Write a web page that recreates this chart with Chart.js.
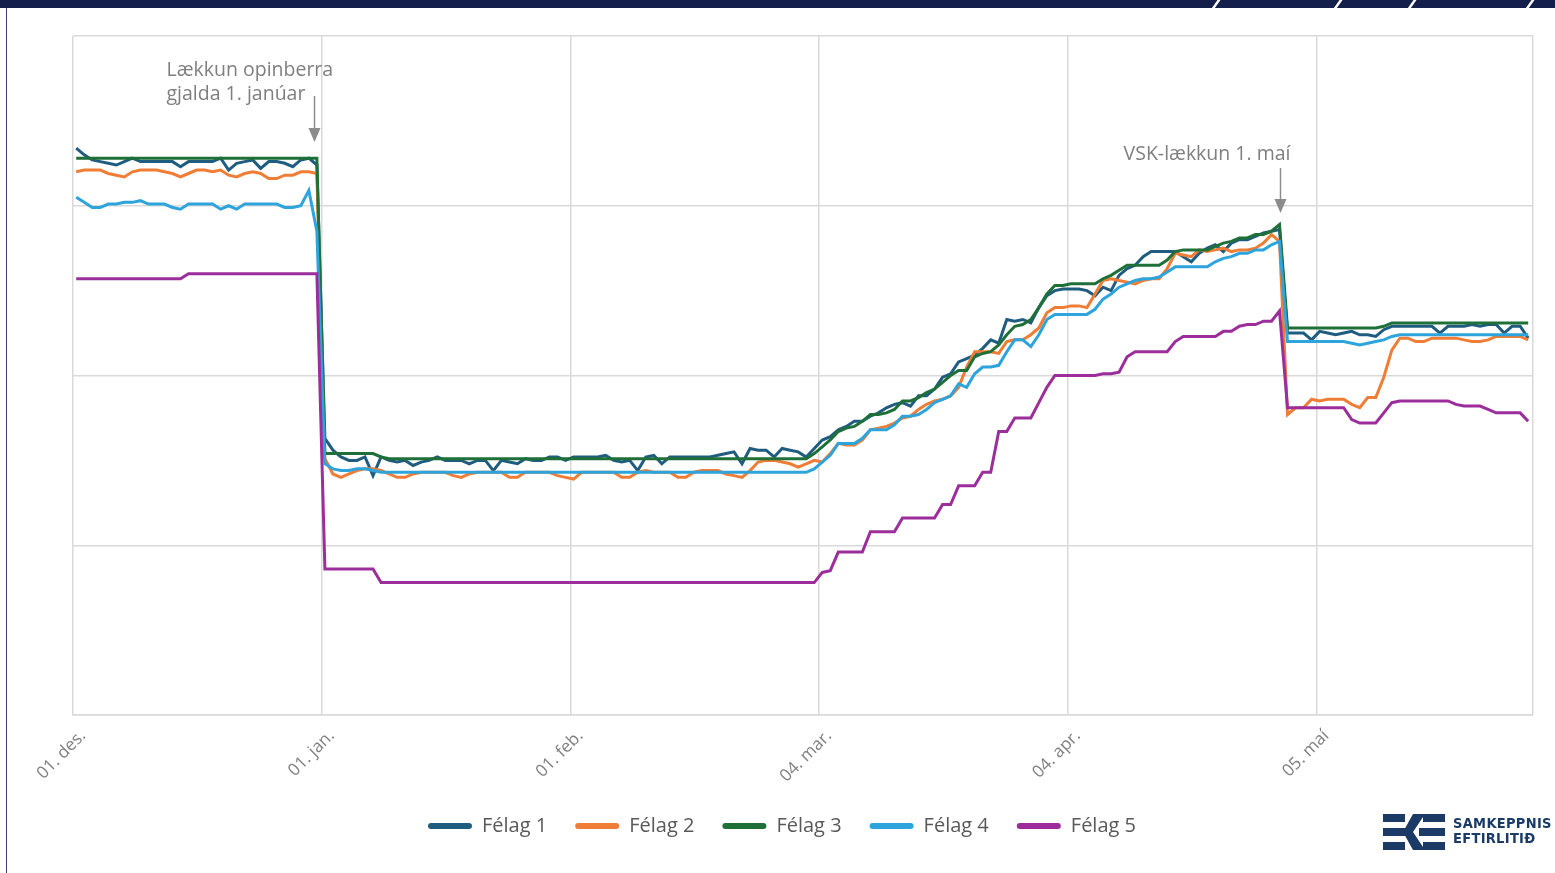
<!DOCTYPE html>
<html lang="is">
<head>
<meta charset="utf-8">
<title>Félag 1-5</title>
<script src="https://cdn.jsdelivr.net/npm/chart.js@4.4.1/dist/chart.umd.min.js"></script>
<style>
  html, body { margin: 0; padding: 0; background: #fff; }
  body { width: 1555px; height: 873px; position: relative; overflow: hidden; font-family: "Open Sans", sans-serif; }
  #topbar { position: absolute; left: 0; top: 0; width: 1555px; height: 8px; background: #141f4b; overflow: hidden; }
  .stripe { position: absolute; top: -2px; width: 3px; height: 14px; background: #fff; transform: skewX(-35deg); }
  #leftline { position: absolute; left: 6px; top: 8px; width: 1px; height: 865px; background: #3a4466; }
  #wrap { position: absolute; left: 0; top: 0; width: 1555px; height: 873px; }
  #logo { position: absolute; left: 1383px; top: 812px; width: 172px; height: 42px; }
  #logo svg { position: absolute; left: 0; top: 0; }
  #logo .txt { position: absolute; left: 70px; top: 4px; color: #1b3a66; font-family: "DejaVu Sans Condensed", "Liberation Sans Narrow", sans-serif; font-weight: bold; font-size: 14.5px; line-height: 15px; letter-spacing: 0.3px; }
</style>
</head>
<body>
<div id="topbar">
  <div class="stripe" style="left:1214px"></div>
  <div class="stripe" style="left:1336px"></div>
  <div class="stripe" style="left:1410px"></div>
  <div class="stripe" style="left:1528px"></div>
</div>
<div id="leftline"></div>
<div id="wrap"><canvas id="chart"></canvas></div>
<div id="logo">
  <svg width="62" height="40" viewBox="0 0 62 40">
    <rect x="0" y="2" width="22" height="8" fill="#1b3a66"/>
    <rect x="0" y="16" width="30" height="8" fill="#1b3a66"/>
    <rect x="0" y="30" width="22" height="8" fill="#1b3a66"/>
    <polygon points="30,2 42,2 30,20 42,38 30,38 20,20" fill="#1b3a66"/>
    <rect x="40" y="2" width="22" height="8" fill="#1b3a66"/>
    <rect x="36" y="16" width="26" height="8" fill="#1b3a66"/>
    <rect x="40" y="30" width="22" height="8" fill="#1b3a66"/>
  </svg>
  <div class="txt">SAMKEPPNIS<br>EFTIRLITIÐ</div>
</div>
<script>
// x axis: one point per day, day 0 = 01. des.; points sit at midday
const tickDays = [0, 31, 62, 93, 124, 155];
const tickLabels = ['01. des.', '01. jan.', '01. feb.', '04. mar.', '04. apr.', '05. maí'];
const lastDay = 182;
const dayOffset = 0.4;

const seriesNames = ['Félag 1', 'Félag 2', 'Félag 3', 'Félag 4', 'Félag 5'];
const seriesColors = ['#1f5d80', '#ef7d35', '#1f7038', '#2da4dc', '#9c2e9c'];

const felag1 = [
  // des.
  334, 330, 327, 326, 325, 324, 326, 328, 326, 326, 326, 326, 326, 323, 326, 326,
  326, 326, 328, 321, 325, 326, 327, 322, 326, 326, 325, 323, 327, 328, 324,
  // jan.
  163, 156, 152, 150, 150, 152, 141, 152, 150, 149, 150, 147, 149, 150, 152, 150,
  150, 150, 148, 150, 150, 144, 150, 149, 148, 151, 150, 150, 152, 152, 150,
  // feb.
  152, 152, 152, 152, 153, 150, 149, 150, 144, 152, 153, 148, 152, 152,
  152, 152, 152, 152, 153, 154, 155, 148, 157, 156, 156, 152, 157, 156,
  // mar.
  155, 152, 157, 162, 164, 168, 170, 173, 173, 176, 178, 181, 183, 184, 182, 188,
  188, 192, 199, 201, 208, 210, 212, 216, 221, 219, 233, 232, 233, 231, 240,
  // apr.
  247, 250, 251, 251, 251, 250, 247, 252, 250, 259, 263, 265, 270, 273, 273,
  273, 273, 270, 267, 272, 275, 277, 273, 278, 280, 280, 282, 284, 285, 286,
  // maí
  225, 225, 225, 221, 226, 225, 224, 225, 226, 224, 224, 223, 227, 229, 229, 229,
  229, 229, 229, 225, 229, 229, 229, 230, 229, 230, 230, 225, 229, 229, 222
];

const felag2 = [
  320, 321, 321, 321, 319, 318, 317, 320, 321, 321, 321, 320, 319, 317, 319, 321,
  321, 320, 321, 318, 317, 319, 320, 319, 316, 316, 318, 318, 320, 320, 319,
  151, 142, 140, 142, 144, 145, 145, 144, 142, 140, 140, 142, 143, 143, 143, 143,
  141, 140, 142, 143, 143, 143, 143, 140, 140, 143, 143, 143, 143, 141, 140,
  139, 143, 143, 143, 143, 143, 140, 140, 143, 144, 143, 143, 143, 140,
  140, 143, 144, 144, 144, 142, 141, 140, 144, 149, 150, 150, 149, 148,
  146, 148, 150, 149, 154, 160, 159, 159, 162, 168, 169, 170, 172, 175, 176, 180,
  183, 185, 186, 188, 193, 205, 214, 214, 214, 213, 220, 221, 221, 224, 228,
  237, 240, 240, 241, 241, 240, 248, 256, 257, 256, 255, 254, 256, 257, 257,
  263, 272, 271, 270, 274, 273, 274, 275, 273, 274, 274, 275, 278, 283, 279,
  177, 181, 181, 186, 185, 186, 186, 186, 183, 181, 187, 187, 199, 215, 222, 222,
  220, 220, 222, 222, 222, 222, 221, 220, 220, 221, 223, 223, 223, 223, 221
];

const felag3 = [
  328, 328, 328, 328, 328, 328, 328, 328, 328, 328, 328, 328, 328, 328, 328, 328,
  328, 328, 328, 328, 328, 328, 328, 328, 328, 328, 328, 328, 328, 328, 328,
  154, 154, 154, 154, 154, 154, 154, 152, 151, 151, 151, 151, 151, 151, 151, 151,
  151, 151, 151, 151, 151, 151, 151, 151, 151, 151, 151, 151, 151, 151, 151,
  151, 151, 151, 151, 151, 151, 151, 151, 151, 151, 151, 151, 151, 151,
  151, 151, 151, 151, 151, 151, 151, 151, 151, 151, 151, 151, 151, 151,
  151, 151, 154, 158, 162, 167, 169, 170, 173, 177, 177, 178, 180, 185, 185, 187,
  190, 192, 196, 200, 203, 203, 211, 213, 214, 218, 224, 229, 230, 233, 240,
  248, 253, 253, 254, 254, 254, 254, 257, 259, 262, 265, 265, 265, 265, 265,
  268, 273, 274, 274, 274, 274, 276, 278, 279, 281, 281, 283, 283, 285, 289,
  228, 228, 228, 228, 228, 228, 228, 228, 228, 228, 228, 228, 229, 231, 231, 231,
  231, 231, 231, 231, 231, 231, 231, 231, 231, 231, 231, 231, 231, 231, 231
];

const felag4 = [
  305, 302, 299, 299, 301, 301, 302, 302, 303, 301, 301, 301, 299, 298, 301, 301,
  301, 301, 298, 300, 298, 301, 301, 301, 301, 301, 299, 299, 300, 309, 285,
  148, 145, 144, 144, 145, 145, 144, 143, 143, 143, 143, 143, 143, 143, 143, 143,
  143, 143, 143, 143, 143, 143, 143, 143, 143, 143, 143, 143, 143, 143, 143,
  143, 143, 143, 143, 143, 143, 143, 143, 143, 143, 143, 143, 143, 143,
  143, 143, 143, 143, 143, 143, 143, 143, 143, 143, 143, 143, 143, 143,
  143, 143, 145, 149, 153, 160, 160, 160, 163, 168, 168, 168, 171, 176, 176, 177,
  180, 184, 186, 188, 195, 193, 201, 205, 205, 206, 214, 221, 221, 217, 224,
  233, 236, 236, 236, 236, 236, 239, 245, 248, 252, 254, 256, 257, 257, 258,
  261, 264, 264, 264, 264, 264, 267, 269, 270, 272, 272, 274, 274, 277, 279,
  220, 220, 220, 220, 220, 220, 220, 220, 219, 218, 219, 220, 221, 223, 224, 224,
  224, 224, 224, 224, 224, 224, 224, 224, 224, 224, 224, 224, 224, 224, 224
];

const felag5 = [
  257, 257, 257, 257, 257, 257, 257, 257, 257, 257, 257, 257, 257, 257, 260, 260,
  260, 260, 260, 260, 260, 260, 260, 260, 260, 260, 260, 260, 260, 260, 260,
  86, 86, 86, 86, 86, 86, 86, 78, 78, 78, 78, 78, 78, 78, 78, 78,
  78, 78, 78, 78, 78, 78, 78, 78, 78, 78, 78, 78, 78, 78, 78,
  78, 78, 78, 78, 78, 78, 78, 78, 78, 78, 78, 78, 78, 78,
  78, 78, 78, 78, 78, 78, 78, 78, 78, 78, 78, 78, 78, 78,
  78, 78, 78, 84, 85, 96, 96, 96, 96, 108, 108, 108, 108, 116, 116, 116,
  116, 116, 124, 124, 135, 135, 135, 143, 143, 167, 167, 175, 175, 175, 184,
  193, 200, 200, 200, 200, 200, 200, 201, 201, 202, 211, 214, 214, 214, 214,
  214, 220, 223, 223, 223, 223, 223, 226, 226, 229, 230, 230, 232, 232, 238,
  181, 181, 181, 181, 181, 181, 181, 181, 174, 172, 172, 172, 178, 184, 185, 185,
  185, 185, 185, 185, 185, 183, 182, 182, 182, 180, 178, 178, 178, 178, 173
];

const allSeries = [felag1, felag2, felag3, felag4, felag5];

// text notes with an arrow pointing down at a given day
const notes = [
  { day: 30.1, lines: ['Lækkun opinberra', 'gjalda 1. janúar'], textDx: -148, textTop: 34, arrowTop: 60, arrowTip: 106, align: 'left' },
  { day: 150.4, lines: ['VSK-lækkun 1. maí'], textDx: 10, textTop: 118, arrowTop: 132, arrowTip: 177, align: 'right' }
];

const notePlugin = {
  id: 'notes',
  afterLayout(chart) {
    // legend sits a little left of the centre in the original
    chart.legend.left -= 21;
    chart.legend.right -= 21;
  },
  afterDatasetsDraw(chart) {
    const { ctx, chartArea } = chart;
    const xs = chart.scales.x;
    ctx.save();
    ctx.font = '19.5px "Open Sans"';
    ctx.strokeStyle = '#8c8c8c';
    ctx.lineWidth = 1.5;
    notes.forEach(n => {
      const px = Math.round(xs.getPixelForValue(n.day)) + 0.5;
      ctx.fillStyle = '#7f7f7f';
      ctx.textAlign = n.align;
      n.lines.forEach((line, i) => {
        ctx.fillText(line, px + n.textDx, chartArea.top + n.textTop + i * 24);
      });
      const top = chartArea.top + n.arrowTop;
      const tip = chartArea.top + n.arrowTip;
      ctx.beginPath();
      ctx.moveTo(px, top);
      ctx.lineTo(px, tip - 12);
      ctx.stroke();
      ctx.beginPath();
      ctx.moveTo(px - 6, tip - 14);
      ctx.lineTo(px + 6, tip - 14);
      ctx.lineTo(px, tip);
      ctx.closePath();
      ctx.fillStyle = '#8c8c8c';
      ctx.fill();
    });
    ctx.restore();
  }
};

const datasets = allSeries.map((values, i) => ({
  label: seriesNames[i],
  data: values.map((v, day) => ({ x: day + dayOffset, y: v })),
  borderColor: seriesColors[i],
  backgroundColor: seriesColors[i],
  borderWidth: 3,
  pointRadius: 0,
  tension: 0,
  order: allSeries.length - i
}));

new Chart(document.getElementById('chart'), {
  type: 'line',
  data: { datasets },
  options: {
    responsive: true,
    maintainAspectRatio: false,
    animation: false,
    layout: { padding: { left: 73, top: 36, right: 22, bottom: 27 } },
    scales: {
      x: {
        type: 'linear',
        min: 0,
        max: lastDay,
        afterBuildTicks: (scale) => {
          scale.ticks = tickDays.concat([lastDay]).map(v => ({ value: v }));
        },
        afterFit: (scale) => {
          scale.height = 73;
          scale.paddingRight = 0;
        },
        ticks: {
          autoSkip: false,
          minRotation: 45,
          maxRotation: 45,
          padding: 11,
          labelOffset: 10,
          color: '#7f7f7f',
          font: { family: '"Open Sans"', size: 17 },
          callback: (value) => {
            const i = tickDays.indexOf(value);
            return i >= 0 ? tickLabels[i] : '';
          }
        },
        grid: { color: '#d9d9d9', lineWidth: 1.5, drawTicks: false },
        border: { color: '#d9d9d9', width: 1.5 }
      },
      y: {
        min: 0,
        max: 400,
        ticks: { display: false, stepSize: 100 },
        grid: { color: '#d9d9d9', lineWidth: 1.5, drawTicks: false },
        border: { display: false }
      }
    },
    plugins: {
      tooltip: { enabled: false },
      legend: {
        position: 'bottom',
        labels: {
          boxWidth: 44,
          boxHeight: 6,
          useBorderRadius: true,
          borderRadius: 3,
          padding: 28,
          color: '#595959',
          font: { family: '"Open Sans"', size: 20 },
          sort: (a, b) => a.datasetIndex - b.datasetIndex,
          generateLabels: (chart) => Chart.defaults.plugins.legend.labels.generateLabels(chart)
            .map(item => Object.assign(item, { lineWidth: 0 }))
        }
      }
    }
  },
  plugins: [notePlugin]
});
</script>
</body>
</html>
